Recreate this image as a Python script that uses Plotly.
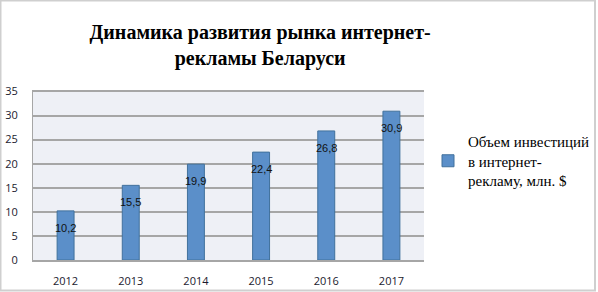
import plotly.graph_objects as go

years = ["2012", "2013", "2014", "2015", "2016", "2017"]
values = [10.2, 15.5, 19.9, 22.4, 26.8, 30.9]
value_labels = ["10,2", "15,5", "19,9", "22,4", "26,8", "30,9"]
series_name = "Объем инвестиций<br>в интернет-<br>рекламу, млн. $"
title_text = "<b>Динамика развития рынка интернет-<br>рекламы Беларуси</b>"

W, H = 598, 292
L, R, T, B = 33, 174, 90, 32
pw, ph = W - L - R, H - T - B

def px_x(x):
    return (x - L) / pw

def px_y(y):
    return (H - B - y) / ph

fig = go.Figure()
fig.add_trace(go.Bar(
    x=years, y=values, name=series_name,
    marker=dict(color="#5B8FC9", line=dict(color="#41719C", width=1)),
    width=0.26,
    showlegend=True,
))

for i, (v, lab) in enumerate(zip(values, value_labels)):
    fig.add_annotation(x=i, y=v, text=lab, showarrow=False, yanchor="top", yshift=-9,
                       font=dict(family="Liberation Sans", size=11, color="#111"))

fig.update_layout(
    width=W, height=H,
    margin=dict(l=L, r=R, t=T, b=B, autoexpand=False),
    paper_bgcolor="white", plot_bgcolor="#EEF0F6",
    title=dict(text=title_text, x=0.435, xanchor="center", y=1 - 39 / H, yanchor="middle",
               xref="container", yref="container",
               font=dict(family="Liberation Serif", size=20, color="#000")),
    xaxis=dict(type="category", showgrid=False, showline=True, linecolor="#A6A6A6", linewidth=1.5,
               ticks="", ticklabelstandoff=10, automargin=False,
               tickfont=dict(family="Open Sans, Liberation Sans", size=11, color="#1a1a2e")),
    yaxis=dict(range=[0, 35.3], tickvals=[0, 5, 10, 15, 20, 25, 30, 35], showgrid=True,
               gridcolor="#A6A6A6", gridwidth=1.5, showline=True, linecolor="#A6A6A6", linewidth=1,
               zeroline=False, ticks="", ticklabelstandoff=12, automargin=False,
               tickfont=dict(family="Open Sans, Liberation Sans", size=11, color="#1a1a2e")),
    legend=dict(x=px_x(428), y=px_y(125), xanchor="left", yanchor="top",
                font=dict(family="Liberation Serif", size=15, color="#000"),
                bgcolor="rgba(0,0,0,0)", itemwidth=30, tracegroupgap=0),
    shapes=[dict(type="rect", xref="paper", yref="paper",
                 x0=px_x(0.5), x1=px_x(595), y0=px_y(290.5), y1=px_y(0.5),
                 line=dict(color="#CFCFCF", width=2), fillcolor="rgba(0,0,0,0)", layer="above")],
)

fig.write_html("out.html", config={"displayModeBar": False},
               post_script="document.body.style.margin='0px';")
